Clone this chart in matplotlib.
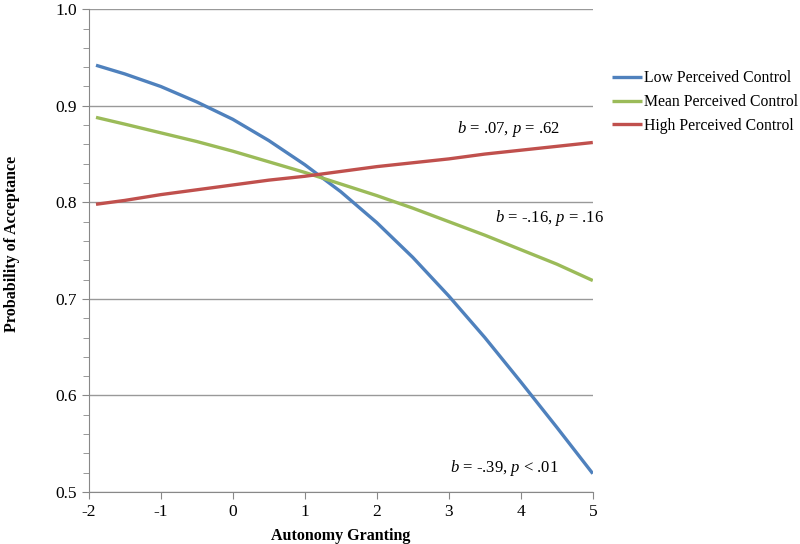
import matplotlib
matplotlib.use('Agg')
import matplotlib.pyplot as plt
from matplotlib.ticker import MultipleLocator

plt.rcParams['font.family'] = ['Liberation Serif', 'DejaVu Serif']
plt.rcParams['mathtext.fontset'] = 'custom'
plt.rcParams['mathtext.rm'] = 'Liberation Serif'
plt.rcParams['mathtext.it'] = 'Liberation Serif:italic'
plt.rcParams['axes.unicode_minus'] = False

# values
autonomy = [-1.9, -1.5, -1.0, -0.5, 0.0, 0.5, 1.0, 1.5, 2.0, 2.5, 3.0, 3.5, 4.0, 4.5, 5.0]
low_pc = [0.942, 0.933, 0.920, 0.904, 0.886, 0.864, 0.839, 0.811, 0.779, 0.743, 0.703,
          0.660, 0.614, 0.567, 0.519]
mean_pc = [0.888, 0.881, 0.872, 0.863, 0.853, 0.842, 0.831, 0.819, 0.807, 0.794, 0.780,
           0.766, 0.751, 0.736, 0.719]
high_pc = [0.798, 0.802, 0.808, 0.813, 0.818, 0.823, 0.827, 0.832, 0.837, 0.841, 0.845,
           0.850, 0.854, 0.858, 0.862]
series_names = ['Low Perceived Control', 'Mean Perceived Control', 'High Perceived Control']
stats = [r'$b$ = -.39, $p$ < .01', r'$b$ = -.16, $p$ = .16', r'$b$ = .07, $p$ = .62']

colors = ['#4F81BD', '#9BBB59', '#C0504D']

fig = plt.figure(figsize=(8, 5.44), dpi=100)
ax = fig.add_axes([0.111, 0.0956, 0.63, 0.8874])

for ys, name, c in zip([low_pc, mean_pc, high_pc], series_names, colors):
    ax.plot(autonomy, ys, color=c, lw=2.4, label=name, solid_capstyle='butt')

ax.set_xlim(-2, 5)
ax.set_ylim(0.5, 1.0)
ax.xaxis.set_major_locator(MultipleLocator(1))
ax.yaxis.set_major_locator(MultipleLocator(0.1))
ax.yaxis.set_minor_locator(MultipleLocator(0.02))
ax.yaxis.set_major_formatter(matplotlib.ticker.FormatStrFormatter('%.1f'))

ax.grid(axis='y', which='major', color='#999999', lw=1)
ax.set_axisbelow(True)
for s in ['top', 'right']:
    ax.spines[s].set_visible(False)
for s in ['left', 'bottom']:
    ax.spines[s].set_color('#888888')
ax.tick_params(axis='both', which='both', direction='out', color='#888888', labelsize=12.5)
ax.tick_params(axis='y', which='major', length=5)
ax.tick_params(axis='y', which='minor', length=4)
ax.tick_params(axis='x', which='major', length=5)

ax.set_xlabel('Autonomy Granting', fontsize=11.5, fontweight='bold', labelpad=6)
ax.set_ylabel('Probability of Acceptance', fontsize=11.5, fontweight='bold')
ax.yaxis.set_label_coords(-0.137, 0.513)

# slope annotations
ax.text(3.01, 0.525, stats[0], fontsize=12, va='center', ha='left')
ax.text(3.64, 0.784, stats[1], fontsize=12, va='center', ha='left')
ax.text(3.11, 0.876, stats[2], fontsize=12, va='center', ha='left')

fig.legend(loc='upper left', bbox_to_anchor=(0.765, 0.871), frameon=False, fontsize=11.3,
           handlelength=1.9, handletextpad=0.15, labelspacing=0.5, borderpad=0,
           borderaxespad=0)

fig.savefig('out.png', dpi=100)
